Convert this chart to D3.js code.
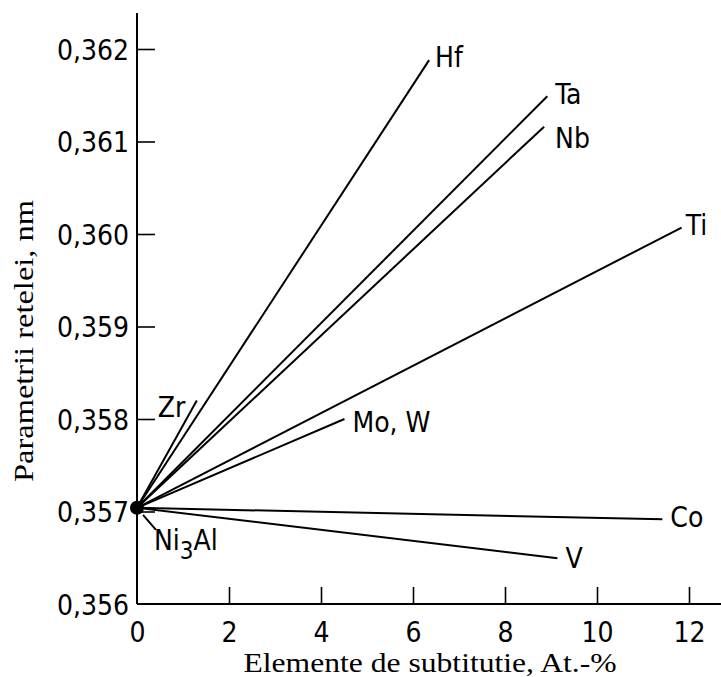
<!DOCTYPE html>
<html>
<head>
<meta charset="utf-8">
<script src="https://cdn.jsdelivr.net/npm/d3@7"></script>
<style>
  body { margin: 0; background: #fff; }
  svg { display: block; }
  .tick text, .lbl { font-family: "Liberation Sans Narrow", "DejaVu Sans Condensed", sans-serif; font-size: 28px; fill: #000; }
  .title { font-family: "Liberation Serif", "DejaVu Serif", serif; font-size: 28px; fill: #000; }
</style>
</head>
<body>
<script>
// Values
var elements = ["Hf", "Ta", "Nb", "Ti", "Mo, W", "Zr", "Co", "V"];
var endX = [6.35, 8.92, 8.85, 11.84, 4.51, 1.30, 11.42, 9.14];
var endY = [0.36188, 0.36149, 0.36116, 0.36007, 0.35800, 0.35820, 0.356916, 0.356494];
var startPoint = [0, 0.35704];   // Ni3Al
var xTicks = [0, 2, 4, 6, 8, 10, 12];
var yTicks = [0.356, 0.357, 0.358, 0.359, 0.360, 0.361, 0.362];

window.onload = function() {
  var w = 721, h = 677;
  var margin = {top: 49, right: 32, bottom: 73, left: 137};

  var svg = d3.select("body").append("svg")
              .attr("width", w)
              .attr("height", h);

  var xScale = d3.scaleLinear().domain([0, 12]).range([margin.left, w - margin.right]);
  var yScale = d3.scaleLinear().domain([0.356, 0.362]).range([h - margin.bottom, margin.top]);

  // axes (ticks point inward)
  var xAxis = d3.axisBottom(xScale)
                .tickValues(xTicks)
                .tickSize(-17)
                .tickPadding(18)
                .tickFormat(d3.format("d"));
  var yAxis = d3.axisLeft(yScale)
                .tickValues(yTicks)
                .tickSize(-18)
                .tickPadding(8)
                .tickFormat(function(d) { return d3.format(".3f")(d).replace(".", ","); });

  var gx = svg.append("g").attr("transform", `translate(0, ${yScale(0.356)})`).call(xAxis);
  var gy = svg.append("g").attr("transform", `translate(${xScale(0)}, 0)`).call(yAxis);
  gx.select(".domain").remove();
  gy.select(".domain").remove();
  gx.selectAll(".tick line").attr("stroke-width", 1.6);
  gy.selectAll(".tick line").attr("stroke-width", 1.6);
  gx.selectAll(".tick").filter(d => d == 0).select("line").remove();
  gy.selectAll(".tick").filter(d => d == 0.356).select("line").remove();
  gy.selectAll(".tick text").attr("dy", "0.36em");

  // axis lines, extended past the last ticks like the original
  svg.append("line")
     .attr("x1", xScale(0)).attr("x2", w)
     .attr("y1", yScale(0.356)).attr("y2", yScale(0.356))
     .attr("stroke", "#000").attr("stroke-width", 2);
  svg.append("line")
     .attr("x1", xScale(0)).attr("x2", xScale(0))
     .attr("y1", 13).attr("y2", yScale(0.356))
     .attr("stroke", "#000").attr("stroke-width", 2);

  // lines from Ni3Al to each element
  var data = elements.map(function(e, i) { return {name: e, x: endX[i], y: endY[i]}; });

  svg.selectAll("line.elem")
     .data(data)
     .enter().append("line")
     .attr("class", "elem")
     .attr("x1", xScale(startPoint[0]))
     .attr("y1", yScale(startPoint[1]))
     .attr("x2", d => xScale(d.x))
     .attr("y2", d => yScale(d.y))
     .attr("stroke", "#000")
     .attr("stroke-width", 2);

  // label offsets from the line end (pixels)
  var offset = {
    "Hf": [6, 7], "Ta": [8, 8], "Nb": [11, 21], "Ti": [4, 7],
    "Mo, W": [8, 13], "Zr": [-39, 16], "Co": [8, 8], "V": [8, 10]
  };

  svg.selectAll("text.lbl")
     .data(data)
     .enter().append("text")
     .attr("class", "lbl")
     .attr("x", d => xScale(d.x) + offset[d.name][0])
     .attr("y", d => yScale(d.y) + offset[d.name][1])
     .text(d => d.name);

  // Ni3Al point and pointer
  var px = xScale(startPoint[0]), py = yScale(startPoint[1]);
  svg.append("circle")
     .attr("cx", px).attr("cy", py).attr("r", 7)
     .attr("fill", "#000");
  svg.append("line")
     .attr("x1", px + 19).attr("y1", py + 22)
     .attr("x2", px + 6).attr("y2", py + 7)
     .attr("stroke", "#000").attr("stroke-width", 2);
  var ni = svg.append("text")
     .attr("class", "lbl")
     .attr("x", px + 17)
     .attr("y", py + 42);
  ni.append("tspan").text("Ni");
  ni.append("tspan").attr("dy", 9).style("font-size", "24px").text("3");
  ni.append("tspan").attr("dy", -9).text("Al");

  // axis titles
  svg.append("text")
     .attr("class", "title")
     .attr("x", 430)
     .attr("y", 672)
     .attr("text-anchor", "middle")
     .attr("textLength", 373)
     .attr("lengthAdjust", "spacingAndGlyphs")
     .text("Elemente de subtitutie, At.-%");

  svg.append("text")
     .attr("class", "title")
     .attr("transform", "translate(33, 341) rotate(-90)")
     .attr("text-anchor", "middle")
     .attr("textLength", 282)
     .attr("lengthAdjust", "spacingAndGlyphs")
     .text("Parametrii retelei, nm");
};
</script>
</body>
</html>
